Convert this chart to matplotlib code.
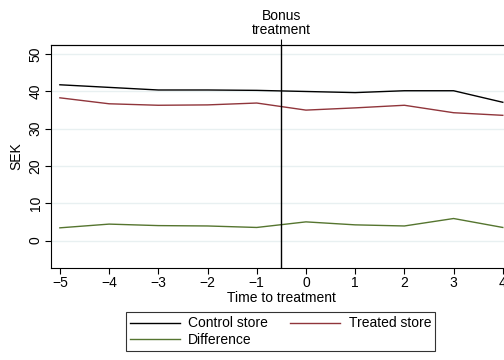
import matplotlib
matplotlib.use("Agg")
import matplotlib.pyplot as plt
from matplotlib.lines import Line2D

# Event time relative to the bonus treatment
periods = [-5, -4, -3, -2, -1, 0, 1, 2, 3, 4]
control_store = [41.8, 41.1, 40.4, 40.4, 40.3, 40.0, 39.7, 40.2, 40.2, 37.1]
treated_store = [38.3, 36.7, 36.3, 36.4, 36.9, 35.0, 35.6, 36.3, 34.3, 33.6]
difference = [3.4, 4.4, 4.0, 3.9, 3.5, 5.0, 4.2, 3.9, 5.9, 3.5]
y_ticks = [0, 10, 20, 30, 40, 50]
treatment_time = -0.5

plt.rcParams['font.family'] = ['Liberation Sans', 'DejaVu Sans']

fig = plt.figure(figsize=(5.04, 3.6), dpi=100)
fig.patch.set_facecolor('white')
ax = fig.add_axes([0.1012, 0.2564, 0.914, 0.6178])

for y in y_ticks:
    ax.axhline(y, color='#e8f0f1', lw=1.0, zorder=0)

ax.plot(periods, control_store, color='black', lw=1.0)
ax.plot(periods, treated_store, color='#90353b', lw=1.0)
ax.plot(periods, difference, color='#55752f', lw=1.0)
ax.axvline(treatment_time, color='black', lw=1.0)

ax.set_xlim(-5.18, 4.18)
ax.set_ylim(-7.3, 52.4)
ax.set_xticks(periods)
ax.set_yticks(y_ticks)
ax.set_yticklabels([str(v) for v in y_ticks], rotation=90, va='center')
ax.tick_params(axis='both', direction='out', length=4, width=0.8, labelsize=10, pad=2)
ax.set_xlabel('Time to treatment', fontsize=10, labelpad=1)
ax.set_ylabel('SEK', fontsize=10, labelpad=4)
ax.spines['right'].set_visible(False)
for side in ['left', 'bottom', 'top']:
    ax.spines[side].set_linewidth(0.8)

top = ax.secondary_xaxis('top')
top.set_xticks([treatment_time])
top.set_xticklabels(['Bonus\ntreatment'], fontsize=10, linespacing=1.0)
top.tick_params(direction='out', length=4, width=0.8, pad=2)

# Legend entries in column-major order: control / difference, then treated
handles = [
    Line2D([], [], color='black', lw=1.0),
    Line2D([], [], color='#55752f', lw=1.0),
    Line2D([], [], color='#90353b', lw=1.0),
]
labels = ['Control store', 'Difference', 'Treated store']
leg = fig.legend(handles, labels, ncol=2, loc='center',
                 bbox_to_anchor=(280.5 / 504, 1 - 331.5 / 360),
                 fontsize=10, frameon=True, fancybox=False,
                 edgecolor='black', handlelength=3.6, handletextpad=0.6,
                 columnspacing=1.6, borderpad=0.3, labelspacing=0.15,
                 borderaxespad=0.0)
leg.get_frame().set_linewidth(0.8)

fig.savefig('out.png', dpi=100, facecolor='white')
